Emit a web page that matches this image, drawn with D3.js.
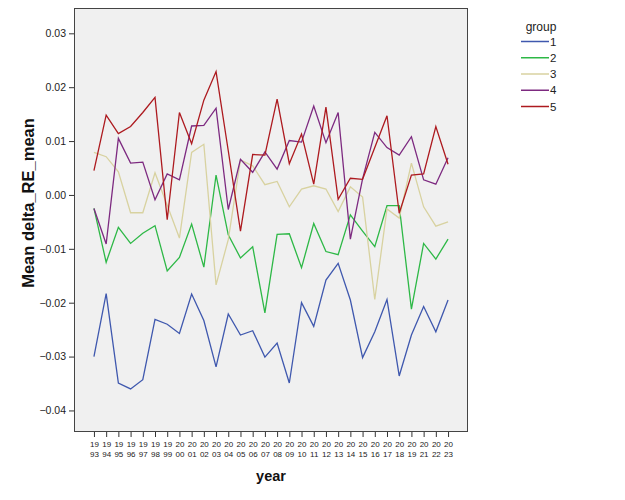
<!DOCTYPE html>
<html>
<head>
<meta charset="utf-8">
<script src="https://cdn.jsdelivr.net/npm/d3@7"></script>
<style>
  html, body { margin: 0; padding: 0; background: #ffffff; }
  svg { display: block; font-family: Arial, "Liberation Sans", sans-serif; }
</style>
</head>
<body>
<svg id="chart" width="625" height="500"></svg>
<script>
const years = ["1993","1994","1995","1996","1997","1998","1999","2000","2001","2002",
  "2003","2004","2005","2006","2007","2008","2009","2010","2011","2012",
  "2013","2014","2015","2016","2017","2018","2019","2021","2022","2023"];
const groups = ["1","2","3","4","5"];
const group1 = [-0.0300,-0.0183,-0.0349,-0.0360,-0.0343,-0.0231,-0.0240,-0.0257,-0.0184,-0.0233,
  -0.0319,-0.0221,-0.0260,-0.0252,-0.0301,-0.0275,-0.0349,-0.0200,-0.0244,-0.0158,
  -0.0127,-0.0195,-0.0302,-0.0254,-0.0194,-0.0336,-0.0260,-0.0207,-0.0254,-0.0195];
const group2 = [-0.0025,-0.0125,-0.0060,-0.0090,-0.0071,-0.0057,-0.0141,-0.0116,-0.0054,-0.0134,
  0.0037,-0.0074,-0.0117,-0.0096,-0.0219,-0.0073,-0.0072,-0.0135,-0.0053,-0.0105,
  -0.0111,-0.0037,-0.0067,-0.0096,-0.0020,-0.0020,-0.0212,-0.0090,-0.0119,-0.0082];
const group3 = [0.0079,0.0071,0.0043,-0.0033,-0.0033,0.0041,-0.0019,-0.0080,0.0079,0.0094,
  -0.0167,-0.0083,0.0065,0.0054,0.0019,0.0025,-0.0022,0.0011,0.0017,0.0011,
  -0.0031,0.0015,-0.0004,-0.0194,-0.0026,-0.0043,0.0059,-0.0022,-0.0058,-0.0050];
const group4 = [-0.0025,-0.0091,0.0105,0.0059,0.0061,-0.0009,0.0039,0.0028,0.0128,0.0129,
  0.0161,-0.0027,0.0066,0.0042,0.0080,0.0048,0.0101,0.0098,0.0165,0.0097,
  0.0153,-0.0082,0.0030,0.0116,0.0088,0.0074,0.0108,0.0028,0.0020,0.0069];
const group5 = [0.0045,0.0148,0.0114,0.0127,0.0153,0.0181,-0.0046,0.0153,0.0095,0.0176,
  0.0229,0.0082,-0.0067,0.0075,0.0074,0.0178,0.0058,0.0113,0.0020,0.0163,
  -0.0008,0.0031,0.0029,0.0088,0.0147,-0.0034,0.0037,0.0039,0.0127,0.0057];
const yTicks = [0.03,0.02,0.01,0.00,-0.01,-0.02,-0.03,-0.04];
const colors = ["#3f58ae","#2db846","#d8d2a0","#7d2a80","#ad1a1f"];

const seriesData = [group1, group2, group3, group4, group5];

const svg = d3.select("#chart");
const plot = {left: 74, right: 468, top: 8, bottom: 432};

const x = d3.scalePoint().domain(years).range([plot.left, plot.right]).padding(1.634);
const y = d3.scaleLinear().domain([-0.044, 0.0347]).range([plot.bottom, plot.top]);

// plot background
svg.append("rect")
  .attr("x", plot.left).attr("y", plot.top)
  .attr("width", plot.right - plot.left).attr("height", plot.bottom - plot.top)
  .attr("fill", "#f0f0f0");

// lines
const line = d3.line().x((d, i) => x(years[i])).y(d => y(d));
seriesData.forEach((s, k) => {
  svg.append("path")
    .datum(s)
    .attr("fill", "none")
    .attr("stroke", colors[k])
    .attr("stroke-width", 1.3)
    .attr("stroke-linejoin", "miter")
    .attr("d", line);
});

// frame
svg.append("rect")
  .attr("x", plot.left + 0.5).attr("y", plot.top + 0.5)
  .attr("width", plot.right - plot.left - 1).attr("height", plot.bottom - plot.top - 1)
  .attr("fill", "none").attr("stroke", "#444").attr("stroke-width", 1);

// Y axis
const yAxis = d3.axisLeft(y).tickValues(yTicks).tickSize(5).tickPadding(3)
  .tickFormat(d3.format(".2f"));
const gy = svg.append("g").attr("transform", `translate(${plot.left},0)`).call(yAxis);
gy.select(".domain").remove();
gy.selectAll(".tick line").attr("stroke", "#333");
gy.selectAll(".tick text").attr("font-size", 10.5).attr("fill", "#222")
  .attr("font-family", "Arial, 'Liberation Sans', sans-serif");

// X axis
const xAxis = d3.axisBottom(x).tickSize(5).tickFormat("");
const gx = svg.append("g").attr("transform", `translate(0,${plot.bottom})`).call(xAxis);
gx.select(".domain").remove();
gx.selectAll(".tick line").attr("stroke", "#333");
gx.selectAll(".tick").each(function(d) {
  const t = d3.select(this).append("text")
    .attr("fill", "#222").attr("font-size", 8).attr("text-anchor", "middle")
    .attr("font-family", "Arial, 'Liberation Sans', sans-serif");
  t.append("tspan").attr("x", 0).attr("y", 15).text(d.slice(0, 2));
  t.append("tspan").attr("x", 0).attr("y", 25).text(d.slice(2));
});

// axis titles
svg.append("text")
  .attr("x", 271).attr("y", 481)
  .attr("text-anchor", "middle").attr("font-size", 14.5).attr("font-weight", "bold")
  .attr("fill", "#111").text("year");
svg.append("text")
  .attr("transform", `translate(34,203) rotate(-90)`)
  .attr("text-anchor", "middle").attr("font-size", 16.5).attr("font-weight", "bold")
  .attr("fill", "#111").text("Mean delta_RE_mean");

// legend
const leg = svg.append("g");
leg.append("text").attr("x", 541).attr("y", 31).attr("text-anchor", "middle")
  .attr("font-size", 12).attr("fill", "#222").text("group");
const ly = d3.scalePoint().domain(groups).range([41.5, 106.5]);
groups.forEach((g, k) => {
  leg.append("line").attr("x1", 521).attr("x2", 549)
    .attr("y1", ly(g)).attr("y2", ly(g))
    .attr("stroke", colors[k]).attr("stroke-width", 1.5);
  leg.append("text").attr("x", 550).attr("y", ly(g) + 4)
    .attr("font-size", 11.5).attr("fill", "#222").text(g);
});
</script>
</body>
</html>
